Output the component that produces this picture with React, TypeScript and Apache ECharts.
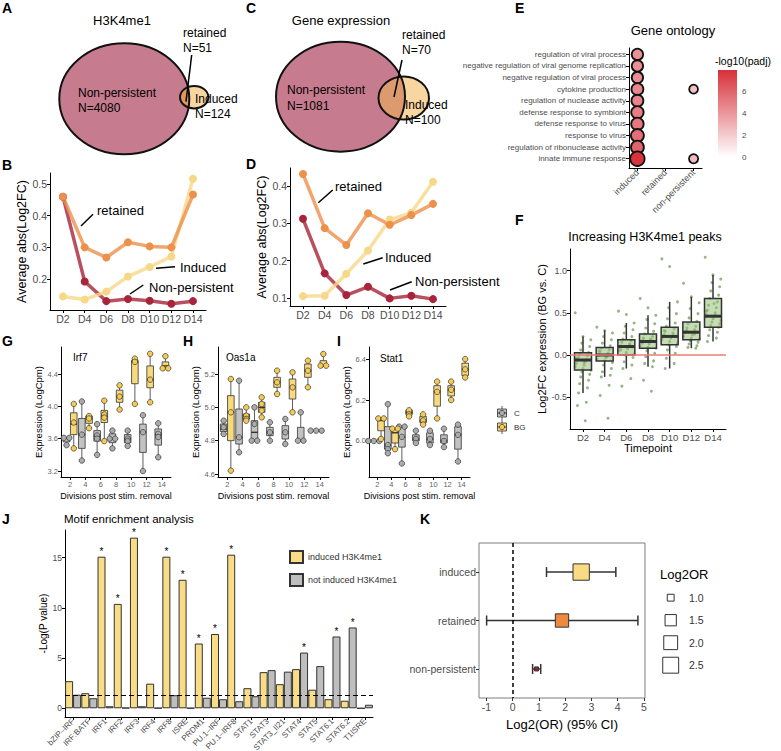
import React, { useEffect, useRef } from "react";
import * as echarts from "echarts";

const FONT = "'Liberation Sans', Arial, Helvetica, sans-serif";

/* ---------- A & C : Venn counts ---------- */
const vennGroups = ["Non-persistent", "retained", "Induced"];
const vennH3K4me1Counts = [4080, 51, 124];
const vennExprCounts = [1081, 70, 100];

/* ---------- B & D : average abs(log2FC) ---------- */
const timepoints = ["D2", "D4", "D6", "D8", "D10", "D12", "D14"];
const h3NonPersistent = [0.46, 0.192, 0.13, 0.137, 0.131, 0.122, 0.13];
const h3Retained = [0.46, 0.3, 0.268, 0.316, 0.303, 0.3, 0.467];
const h3Induced = [0.145, 0.135, 0.16, 0.208, 0.238, 0.271, 0.517];
const exNonPersistent = [0.312, 0.166, 0.108, 0.13, 0.099, 0.106, 0.097];
const exRetained = [0.432, 0.287, 0.242, 0.327, 0.296, 0.322, 0.352];
const exInduced = [0.105, 0.106, 0.165, 0.227, 0.31, 0.328, 0.411];
const bTicks = [0.2, 0.3, 0.4, 0.5];
const dTicks = [0.1, 0.2, 0.3, 0.4];

/* ---------- E : gene ontology ---------- */
const goTerms = [
  "regulation of viral process",
  "negative regulation of viral genome replication",
  "negative regulation of viral process",
  "cytokine production",
  "regulation of nuclease activity",
  "defense response to symbiont",
  "defense response to virus",
  "response to virus",
  "regulation of ribonuclease activity",
  "innate immune response",
];
const goGroups = ["induced", "retained", "non-persistent"];
const goInducedPadj = [4.2, 4.3, 4.4, 4.6, 4.8, 5.0, 5.2, 5.6, 6.0, 7.9];
const goInducedCount = [10, 10, 10, 11, 11, 12, 12, 13, 13, 16];
const goNonPersistentPadj: (number | null)[] = [null, null, null, 2.4, null, null, null, null, null, 2.6];
const goNonPersistentCount: (number | null)[] = [null, null, null, 6, null, null, null, null, null, 6.5];
const colorbarTicks = [0, 2, 4, 6];

/* ---------- F : increasing H3K4me1 peaks ---------- */
const fBoxStats = [
  [-0.45, -0.178, -0.06, 0.027, 0.22],
  [-0.26, -0.07, 0.0, 0.09, 0.29],
  [-0.16, 0.0, 0.1, 0.18, 0.38],
  [-0.14, 0.08, 0.16, 0.25, 0.47],
  [-0.16, 0.12, 0.22, 0.33, 0.63],
  [0.08, 0.18, 0.27, 0.39, 0.69],
  [0.16, 0.33, 0.46, 0.67, 0.95],
];
const fPoints = [
  [0.5, 0.22, 0.18, 0.14, 0.1, 0.06, 0.03, 0.01, -0.01, -0.03, -0.05, -0.06, -0.08, -0.1, -0.12, -0.14, -0.16, -0.18, -0.2, -0.23, -0.26, -0.3, -0.34, -0.39, -0.45, -0.56, -0.6, -0.78, -0.04, -0.09],
  [0.33, 0.29, 0.26, 0.22, 0.18, 0.14, 0.11, 0.08, 0.06, 0.04, 0.02, 0.01, 0.0, -0.01, -0.03, -0.05, -0.07, -0.09, -0.12, -0.16, -0.2, -0.24, -0.26, -0.36, -0.48, -0.75, 0.05, -0.02],
  [0.52, 0.48, 0.38, 0.34, 0.3, 0.26, 0.22, 0.19, 0.17, 0.15, 0.13, 0.11, 0.1, 0.09, 0.07, 0.05, 0.03, 0.01, 0.0, -0.03, -0.08, -0.12, -0.16, -0.28, -0.37, 0.12, 0.06],
  [0.67, 0.56, 0.47, 0.42, 0.37, 0.32, 0.28, 0.25, 0.22, 0.2, 0.18, 0.17, 0.16, 0.15, 0.13, 0.11, 0.09, 0.08, 0.05, 0.02, -0.02, -0.07, -0.1, -0.14, -0.3, -0.43, 0.14, 0.19],
  [1.14, 1.05, 0.63, 0.56, 0.49, 0.43, 0.38, 0.34, 0.31, 0.28, 0.26, 0.24, 0.22, 0.21, 0.2, 0.18, 0.16, 0.14, 0.12, 0.1, 0.06, 0.02, -0.04, -0.1, -0.16, 0.23, 0.29],
  [0.85, 0.69, 0.62, 0.55, 0.49, 0.44, 0.4, 0.37, 0.34, 0.32, 0.3, 0.28, 0.27, 0.26, 0.24, 0.22, 0.2, 0.19, 0.17, 0.15, 0.13, 0.11, 0.09, 0.08, 0.29, 0.25],
  [1.16, 0.95, 0.9, 0.86, 0.81, 0.76, 0.71, 0.67, 0.63, 0.59, 0.56, 0.53, 0.5, 0.48, 0.46, 0.45, 0.43, 0.41, 0.39, 0.37, 0.35, 0.33, 0.3, 0.27, 0.23, 0.2, 0.16, 0.47, 0.52, 0.61],
];
const fTicks = [-0.5, 0, 0.5, 1.0];

/* ---------- G / H / I : gene expression ---------- */
const divisions = ["2", "4", "6", "8", "10", "12", "14"];
const irf7CBox = [[3.52, 3.56, 3.61, 3.61, 3.61], [3.33, 3.48, 3.65, 3.85, 4.06], [3.4, 3.57, 3.63, 3.7, 3.78], [3.48, 3.55, 3.6, 3.66, 3.7], [3.51, 3.55, 3.6, 3.65, 3.7], [3.2, 3.43, 3.68, 3.78, 3.89], [3.37, 3.52, 3.65, 3.72, 3.79]];
const irf7CPts = [[3.61, 3.61, 3.52], [4.06, 3.65, 3.33], [3.78, 3.64, 3.6, 3.4], [3.7, 3.6, 3.6, 3.48], [3.7, 3.6, 3.57, 3.51], [3.89, 3.68, 3.2], [3.79, 3.66, 3.62, 3.37]];
const irf7BGBox = [[3.48, 3.65, 3.78, 3.92, 4.03], [3.73, 3.79, 3.85, 3.88, 3.88], [3.57, 3.8, 3.88, 3.95, 4.07], [3.96, 4.05, 4.12, 4.2, 4.26], [4.03, 4.28, 4.55, 4.57, 4.59], [4.05, 4.23, 4.33, 4.5, 4.65], [4.47, 4.48, 4.5, 4.55, 4.62]];
const irf7BGPts = [[4.03, 3.8, 3.48], [3.88, 3.85, 3.73], [4.07, 3.9, 3.86, 3.57], [4.26, 4.12, 3.96], [4.59, 4.55, 4.03], [4.65, 4.33, 4.05], [4.62, 4.47, 4.47]];
const oas1aCBox = [[4.84, 4.855, 4.87, 4.9, 4.92], [4.73, 4.78, 4.82, 4.99, 5.16], [4.8, 4.8, 4.85, 4.92, 5.0], [4.8, 4.83, 4.85, 4.88, 4.91], [4.78, 4.81, 4.85, 4.89, 4.93], [4.8, 4.8, 4.8, 4.88, 4.97], [4.86, 4.86, 4.86, 4.86, 4.86]];
const oas1aCPts = [[4.92, 4.88, 4.84], [5.16, 4.82, 4.73], [5.0, 4.9, 4.8, 4.8], [4.91, 4.85, 4.8], [4.93, 4.85, 4.78], [4.97, 4.8, 4.8], [4.86, 4.86, 4.86]];
const oas1aBGBox = [[4.62, 4.8, 4.97, 5.07, 5.17], [4.92, 4.93, 4.95, 4.96, 5.0], [4.94, 4.97, 5.0, 5.03, 5.06], [5.08, 5.12, 5.15, 5.18, 5.22], [4.97, 5.05, 5.12, 5.17, 5.21], [5.12, 5.18, 5.22, 5.26, 5.28], [5.25, 5.25, 5.25, 5.28, 5.32]];
const oas1aBGPts = [[5.17, 4.97, 4.62], [5.0, 4.95, 4.93, 4.92], [5.06, 5.02, 4.98, 4.94], [5.22, 5.15, 5.08], [5.21, 5.12, 4.97], [5.28, 5.22, 5.12], [5.32, 5.25, 5.25]];
const stat1CBox = [[6.0, 6.0, 6.0, 6.0, 6.0], [5.94, 5.96, 5.98, 6.07, 6.18], [5.89, 5.97, 6.02, 6.07, 6.07], [5.99, 6.0, 6.01, 6.03, 6.05], [5.98, 5.99, 6.01, 6.04, 6.05], [5.97, 5.99, 6.0, 6.03, 6.06], [5.9, 5.96, 6.03, 6.07, 6.08]];
const stat1CPts = [[6.0, 6.0, 6.0], [6.18, 5.98, 5.96, 5.94], [6.07, 6.07, 6.02, 5.89], [6.05, 6.01, 5.99], [6.05, 6.01, 5.98], [6.06, 6.0, 5.97], [6.08, 6.03, 5.9]];
const stat1BGBox = [[6.01, 6.05, 6.1, 6.11, 6.11], [5.96, 5.99, 6.04, 6.06, 6.06], [6.12, 6.13, 6.14, 6.15, 6.15], [6.08, 6.09, 6.1, 6.12, 6.13], [6.11, 6.17, 6.24, 6.27, 6.29], [6.2, 6.22, 6.25, 6.27, 6.29], [6.31, 6.32, 6.35, 6.38, 6.4]];
const stat1BGPts = [[6.11, 6.11, 6.01], [6.06, 6.06, 5.96], [6.15, 6.13, 6.12], [6.13, 6.1, 6.08], [6.29, 6.24, 6.11], [6.29, 6.25, 6.2], [6.4, 6.35, 6.31]];
const irf7Ticks = [3.2, 3.6, 4.0, 4.4];
const oas1aTicks = [4.6, 4.8, 5.0, 5.2];
const stat1Ticks = [6.0, 6.2, 6.4];

/* ---------- J : motif enrichment ---------- */
const motifs = ["bZIP–IRF", "IRF:BATF", "IRF1", "IRF2", "IRF3", "IRF4", "IRF8", "ISRE", "PRDM1", "PU.1–IRF", "PU.1–IRF8", "STAT1", "STAT3", "STAT3_Il21", "STAT4", "STAT5", "STAT6.1", "STAT6.2", "T1ISRE"];
const motifInduced = [2.7, 1.5, 15.1, 10.4, 17.0, 2.45, 15.1, 12.8, 6.45, 7.4, 15.3, 2.0, 3.6, 2.4, 3.9, 1.85, 0.9, 0.75, 0.0];
const motifNotInduced = [1.35, 1.0, 0.2, 0.05, 0.2, 0.03, 1.3, 0.02, 1.05, 0.9, 0.7, 1.2, 3.8, 3.65, 5.55, 4.2, 7.15, 8.05, 0.35];
const motifSigInduced = [false, false, true, true, true, false, true, true, true, true, true, false, false, false, false, false, false, false, false];
const motifSigNotInduced = [false, false, false, false, false, false, false, false, false, false, false, false, false, false, true, false, true, true, false];
const jTicks = [0, 5, 10, 15];
const pThreshold = 1.3;

/* ---------- K : odds ratios ---------- */
const kGroups = ["induced", "retained", "non-persistent"];
const kLog2OR = [2.61, 1.88, 0.91];
const kLo = [1.29, -0.99, 0.76];
const kHi = [3.93, 4.77, 1.07];
const kTicks = [-1, 0, 1, 2, 3, 4, 5];
const kLegendValues = [1.0, 1.5, 2.0, 2.5];

/* ---------- styles ---------- */
const C_NP = "#A8243A";
const C_RET = "#EC904A";
const C_IND = "#F7D888";
const LABEL = "#4D4D4D";
const kColors = ["#F9DB86", "#EE8A3F", "#A51C30"];

const sqSize = (v: number) => 4 + 12.3 * Math.sqrt(Math.max(0, v - 0.91) / 1.69);
const goSize = (n: number) => 3.6 * Math.sqrt(n);

function rayEllipse(px: number, py: number, dx: number, dy: number, e: any) {
  const ox = (px - e.cx) / e.rx, oy = (py - e.cy) / e.ry, ux = dx / e.rx, uy = dy / e.ry;
  const a = ux * ux + uy * uy, b = 2 * (ox * ux + oy * uy), c = ox * ox + oy * oy - 1;
  return (-b + Math.sqrt(b * b - 4 * a * c)) / (2 * a);
}
function overlap(e1: any, e2: any) {
  const px = (e2.cx - e2.rx + e1.cx + e1.rx) / 2, py = e2.cy;
  const pts: number[][] = [];
  for (let k = 0; k < 120; k++) {
    const a = (2 * Math.PI * k) / 120, dx = Math.cos(a), dy = Math.sin(a);
    const t = Math.min(rayEllipse(px, py, dx, dy, e1), rayEllipse(px, py, dx, dy, e2));
    pts.push([px + dx * t, py + dy * t]);
  }
  return pts;
}

const txt = (x: number, y: number, text: string, o: any = {}) => ({
  type: "text", x, y, silent: true,
  style: {
    text, fill: o.fill || "#000",
    font: `${o.bold ? "bold " : ""}${o.size || 12}px ${FONT}`,
    align: o.align || "left", verticalAlign: o.va || "middle",
  },
});
const seg = (x1: number, y1: number, x2: number, y2: number, w = 1.5, color = "#000") => ({
  type: "line", silent: true, shape: { x1, y1, x2, y2 }, style: { stroke: color, lineWidth: w },
});

function venn(e1: any, e2: any, ovColor: string) {
  return [
    { type: "ellipse", silent: true, shape: e1, style: { fill: "#C67C8E" } },
    { type: "ellipse", silent: true, shape: e2, style: { fill: "#F8D6A1" } },
    { type: "polygon", silent: true, shape: { points: overlap(e1, e2) }, style: { fill: ovColor } },
    { type: "ellipse", silent: true, shape: e1, style: { fill: "none", stroke: "#111", lineWidth: 2 } },
    { type: "ellipse", silent: true, shape: e2, style: { fill: "none", stroke: "#111", lineWidth: 2 } },
  ];
}

function axisBase(gridIndex: number, fontSize: number, color: string) {
  return {
    gridIndex,
    axisLine: { show: true, onZero: false, lineStyle: { color: "#000", width: 1 } },
    axisTick: { show: true, length: 3, lineStyle: { color: "#000", width: 1 } },
    axisLabel: { fontSize, color, margin: 3, fontFamily: FONT },
    splitLine: { show: false },
  };
}
function vAxis(gridIndex: number, min: number, max: number, ticks: number[], fmt: any, fontSize: number, color: string, lab: any = {}, extra: any = {}) {
  const b: any = axisBase(gridIndex, fontSize, color);
  return {
    ...b, type: "value", min, max,
    axisTick: { ...b.axisTick, customValues: ticks },
    axisLabel: { ...b.axisLabel, customValues: ticks, formatter: fmt, ...lab },
    ...extra,
  };
}
const nameY = (name: string, gap: number, size: number) => ({
  name, nameLocation: "middle", nameGap: gap, nameRotate: 90,
  nameTextStyle: { fontSize: size, color: "#000", fontFamily: FONT },
});
const nameX = (name: string, gap: number, size: number) => ({
  name, nameLocation: "middle", nameGap: gap,
  nameTextStyle: { fontSize: size, color: "#000", fontFamily: FONT },
});

function boxRenderer(off: number, halfW: number, fill: string, lw: number, medLw: number) {
  return (_p: any, api: any) => {
    const x = api.value(0);
    const pMin = api.coord([x, api.value(1)]);
    const pQ1 = api.coord([x, api.value(2)]);
    const pMed = api.coord([x, api.value(3)]);
    const pQ3 = api.coord([x, api.value(4)]);
    const pMax = api.coord([x, api.value(5)]);
    const cx = pMin[0] + off;
    const st = { stroke: "#333", lineWidth: lw };
    return {
      type: "group",
      children: [
        { type: "line", shape: { x1: cx, y1: pMin[1], x2: cx, y2: pQ1[1] }, style: st },
        { type: "line", shape: { x1: cx, y1: pQ3[1], x2: cx, y2: pMax[1] }, style: st },
        { type: "rect", shape: { x: cx - halfW, y: pQ3[1], width: 2 * halfW, height: Math.max(pQ1[1] - pQ3[1], 0.5) }, style: { fill, stroke: "#333", lineWidth: lw } },
        { type: "line", shape: { x1: cx - halfW, y1: pMed[1], x2: cx + halfW, y2: pMed[1] }, style: { stroke: "#333", lineWidth: medLw } },
      ],
    };
  };
}
const boxSeries = (ai: number, stats: number[][], off: number, halfW: number, fill: string, lw: number, medLw: number, z = 3) => ({
  type: "custom", xAxisIndex: ai, yAxisIndex: ai, silent: true, z,
  renderItem: boxRenderer(off, halfW, fill, lw, medLw),
  encode: { x: 0, y: [1, 2, 3, 4, 5] },
  data: stats.map((s, i) => [i, ...s]),
});
function dotData(pts: number[][], off: number) {
  const out: any[] = [];
  pts.forEach((arr, i) => {
    arr.forEach((v, j) => {
      const same = arr.filter((u) => u === v).length;
      const k = arr.slice(0, j).filter((u) => u === v).length;
      out.push({ value: [i, v], symbolOffset: [off + (k - (same - 1) / 2) * 5.5, 0] });
    });
  });
  return out;
}
const dotSeries = (ai: number, pts: number[][], off: number, fill: string) => ({
  type: "scatter", xAxisIndex: ai, yAxisIndex: ai, silent: true, z: 4,
  symbolSize: 5.5, data: dotData(pts, off),
  itemStyle: { color: fill, borderColor: "#333", borderWidth: 0.7, opacity: 1 },
});

function buildOption() {
  const grids = [
    { left: 50, top: 173, width: 156, height: 137 },
    { left: 290, top: 168, width: 156, height: 138 },
    { left: 629, top: 48, width: 73, height: 120 },
    { left: 570, top: 249, width: 156, height: 180 },
    { left: 61, top: 347, width: 110, height: 130 },
    { left: 218, top: 347, width: 111, height: 130 },
    { left: 369, top: 347, width: 101, height: 130 },
    { left: 65, top: 530, width: 308, height: 187 },
    { left: 479, top: 543, width: 166, height: 155, show: true, borderColor: "#7f7f7f", borderWidth: 1 },
  ].map((g) => ({ ...g, outerBoundsMode: "none", containLabel: false }));

  const idx7 = [0, 1, 2, 3, 4, 5, 6];
  const tpFmt = (v: number) => timepoints[Math.round(v)] ?? "";
  const divFmt = (v: number) => divisions[Math.round(v)] ?? "";
  const f1 = (v: number) => v.toFixed(1);

  const xAxis: any[] = [
    vAxis(0, -0.6, 6.6, idx7, tpFmt, 10.5, LABEL),
    vAxis(1, -0.6, 6.6, idx7, tpFmt, 10.5, LABEL),
    vAxis(2, -0.3, 2.3, [0, 1, 2], (v: number) => goGroups[Math.round(v)] ?? "", 9, LABEL, { rotate: 45 }),
    vAxis(3, -0.6, 6.6, idx7, tpFmt, 9.5, LABEL, {}, nameX("Timepoint", 13, 11)),
    vAxis(4, -0.6, 6.6, idx7, divFmt, 7.5, "#666", {}, nameX("Divisions post stim. removal", 14, 9)),
    vAxis(5, -0.6, 6.6, idx7, divFmt, 7.5, "#666", {}, nameX("Divisions post stim. removal", 14, 9)),
    vAxis(6, -0.6, 6.6, idx7, divFmt, 7.5, "#666", {}, nameX("Divisions post stim. removal", 14, 9)),
    {
      ...axisBase(7, 8, LABEL), type: "category", data: motifs, boundaryGap: true,
      axisTick: { show: true, length: 3, alignWithLabel: true, lineStyle: { color: "#000" } },
      axisLabel: { fontSize: 8, color: LABEL, margin: 3, rotate: 45, interval: 0, fontFamily: FONT },
    },
    {
      ...vAxis(8, -1.28, 5.04, kTicks, (v: number) => String(v), 10.5, LABEL, {}, nameX("Log2(OR) (95% CI)", 20, 13)),
      axisLine: { show: false, onZero: false },
      axisTick: { show: true, length: 3, customValues: kTicks, lineStyle: { color: "#333" } },
    },
  ];
  const yAxis: any[] = [
    vAxis(0, 0.102, 0.535, bTicks, f1, 10.5, LABEL, {}, nameY("Average abs(Log2FC)", 22, 12.5)),
    vAxis(1, 0.0786, 0.448, dTicks, f1, 10.5, LABEL, {}, nameY("Average abs(Log2FC)", 22, 12.5)),
    vAxis(2, -0.55, 9.8, [0, 1, 2, 3, 4, 5, 6, 7, 8, 9], (v: number) => goTerms[Math.round(v)] ?? "", 8, LABEL, {}, { inverse: true }),
    vAxis(3, -0.878, 1.257, fTicks, f1, 9, LABEL, {}, nameY("Log2FC expression (BG vs. C)", 21, 11)),
    vAxis(4, 3.126, 4.734, irf7Ticks, f1, 7.5, "#666", {}, nameY("Expression (LogCpm)", 17, 9.5)),
    vAxis(5, 4.582, 5.362, oas1aTicks, f1, 7.5, "#666", {}, nameY("Expression (LogCpm)", 18, 9.5)),
    vAxis(6, 5.824, 6.459, stat1Ticks, f1, 7.5, "#666", {}, nameY("Expression (LogCpm)", 16, 9.5)),
    vAxis(7, -0.87, 17.76, jTicks, (v: number) => String(v), 8.5, LABEL, {}, nameY("-Log(P value)", 14, 10)),
    {
      ...vAxis(8, -0.6, 2.6, [0, 1, 2], (v: number) => kGroups[Math.round(v)] ?? "", 10.5, LABEL, {}, { inverse: true }),
      axisLine: { show: false, onZero: false },
      axisTick: { show: true, length: 3, customValues: [0, 1, 2], lineStyle: { color: "#333" } },
    },
  ];

  const series: any[] = [];
  const addLines = (ai: number, np: number[], ind: number[], ret: number[]) => {
    const sets: [number[], string][] = [[np, C_NP], [ind, C_IND], [ret, C_RET]];
    sets.forEach(([d, c]) =>
      series.push({
        type: "line", xAxisIndex: ai, yAxisIndex: ai, silent: true, z: 2, symbol: "none", showSymbol: false,
        data: d.map((v, i) => [i, v]), lineStyle: { color: c, width: 3.5, opacity: 0.8 }, itemStyle: { color: c },
      })
    );
    sets.forEach(([d, c]) =>
      series.push({
        type: "scatter", xAxisIndex: ai, yAxisIndex: ai, silent: true, z: 3, symbolSize: 8,
        data: d.map((v, i) => [i, v]), itemStyle: { color: c, opacity: 1 },
      })
    );
  };
  addLines(0, h3NonPersistent, h3Induced, h3Retained);
  addLines(1, exNonPersistent, exInduced, exRetained);

  // E
  const eData: any[] = [];
  goInducedPadj.forEach((v, i) => eData.push([0, i, v, goInducedCount[i]]));
  goNonPersistentPadj.forEach((v, i) => {
    if (v !== null) eData.push([2, i, v, goNonPersistentCount[i]]);
  });
  const eIndex = series.length;
  series.push({
    type: "scatter", xAxisIndex: 2, yAxisIndex: 2, silent: true, z: 3,
    data: eData, symbolSize: (d: number[]) => goSize(d[3]),
    itemStyle: { borderColor: "#111", borderWidth: 1.8, opacity: 1 },
  });

  // F
  series.push({
    type: "scatter", xAxisIndex: 3, yAxisIndex: 3, silent: true, z: 2, symbolSize: 3,
    data: fPoints.flatMap((arr, i) => arr.map((v, j) => [i + (((j * 7) % 15) - 7) / 7 * 0.36, v])),
    itemStyle: { color: "#6B9650", opacity: 0.7 },
    markLine: {
      silent: true, symbol: ["none", "none"], label: { show: false },
      lineStyle: { color: "#F07A72", width: 1.5, type: "solid" }, data: [{ yAxis: 0 }],
    },
  });
  series.push(boxSeries(3, fBoxStats, 0, 8.5, "rgba(150,192,118,0.55)", 1.5, 3, 3));

  // G, H, I
  const ghi: [number, number[][], number[][], number[][], number[][]][] = [
    [4, irf7CBox, irf7CPts, irf7BGBox, irf7BGPts],
    [5, oas1aCBox, oas1aCPts, oas1aBGBox, oas1aBGPts],
    [6, stat1CBox, stat1CPts, stat1BGBox, stat1BGPts],
  ];
  ghi.forEach(([ai, cb, cp, bb, bp]) => {
    series.push(boxSeries(ai, cb, -3.6, 3.3, "#C2C2C2", 0.8, 1.4));
    series.push(boxSeries(ai, bb, 3.6, 3.3, "#F8D97C", 0.8, 1.4));
    series.push(dotSeries(ai, cp, -3.6, "#ABABAB"));
    series.push(dotSeries(ai, bp, 3.6, "#F5CB55"));
  });

  // J
  const starLabel = { show: true, position: "top", formatter: "*", fontSize: 10, color: "#000", distance: 0, fontFamily: FONT };
  const hidden = { show: false };
  series.push({
    type: "bar", name: "induced H3K4me1", xAxisIndex: 7, yAxisIndex: 7, silent: true,
    barWidth: 8, barGap: "0%",
    data: motifInduced.map((v, i) => ({ value: v, label: motifSigInduced[i] ? starLabel : hidden })),
    itemStyle: { color: "#FADB86", borderColor: "#333", borderWidth: 1 }, label: hidden,
    markLine: {
      silent: true, symbol: ["none", "none"], label: { show: false },
      lineStyle: { color: "#000", width: 1, type: [5, 3] }, data: [{ yAxis: pThreshold }],
    },
  });
  series.push({
    type: "bar", name: "not induced H3K4me1", xAxisIndex: 7, yAxisIndex: 7, silent: true,
    barWidth: 8, barGap: "0%",
    data: motifNotInduced.map((v, i) => ({ value: v, label: motifSigNotInduced[i] ? starLabel : hidden })),
    itemStyle: { color: "#BEBEBE", borderColor: "#333", borderWidth: 1 }, label: hidden,
  });

  // K
  series.push({
    type: "custom", xAxisIndex: 8, yAxisIndex: 8, silent: true, z: 3,
    encode: { x: [0, 1], y: 2 },
    data: kLo.map((lo, i) => [lo, kHi[i], i]),
    renderItem: (_p: any, api: any) => {
      const a = api.coord([api.value(0), api.value(2)]);
      const b = api.coord([api.value(1), api.value(2)]);
      const st = { stroke: "#333", lineWidth: 1.5 };
      return {
        type: "group",
        children: [
          { type: "line", shape: { x1: a[0], y1: a[1], x2: b[0], y2: b[1] }, style: st },
          { type: "line", shape: { x1: a[0], y1: a[1] - 5, x2: a[0], y2: a[1] + 5 }, style: st },
          { type: "line", shape: { x1: b[0], y1: b[1] - 5, x2: b[0], y2: b[1] + 5 }, style: st },
        ],
      };
    },
  });
  series.push({
    type: "scatter", xAxisIndex: 8, yAxisIndex: 8, silent: true, z: 4, symbol: "rect",
    data: kLog2OR.map((v, i) => ({ value: [v, i], symbolSize: sqSize(v), itemStyle: { color: kColors[i] } })),
    itemStyle: { borderColor: "#333", borderWidth: 1, opacity: 1 },
    markLine: {
      silent: true, symbol: ["none", "none"], label: { show: false },
      lineStyle: { color: "#000", width: 1.5, type: [4, 3] }, data: [{ xAxis: 0 }],
    },
  });

  // graphics
  const eA1 = { cx: 124.3, cy: 98.8, rx: 65, ry: 55.5 };
  const eA2 = { cx: 194.2, cy: 97.2, rx: 14.2, ry: 11.2 };
  const eC1 = { cx: 340.5, cy: 96.7, rx: 64.5, ry: 55 };
  const eC2 = { cx: 403.75, cy: 98, rx: 25.25, ry: 21.5 };
  const g: any[] = [];
  g.push(...venn(eA1, eA2, "#E3955F"));
  g.push(...venn(eC1, eC2, "#DE9A6F"));
  const L = (x: number, y: number, s: string) => txt(x, y, s, { bold: true, size: 14 });
  g.push(L(2, 8, "A"), L(2, 165, "B"), L(246, 8, "C"), L(246, 164, "D"), L(515, 8, "E"), L(515, 220, "F"),
    L(2, 341, "G"), L(183, 341, "H"), L(337, 341, "I"), L(2, 519, "J"), L(420, 519, "K"));
  g.push(txt(122, 20, "H3K4me1", { size: 13, align: "center" }));
  g.push(txt(78, 92.5, vennGroups[0]), txt(78, 108, "N=" + vennH3K4me1Counts[0]));
  g.push(txt(183, 33, vennGroups[1]), txt(183, 47.5, "N=" + vennH3K4me1Counts[1]), seg(191.7, 55, 186, 101.7));
  g.push(txt(195, 99, vennGroups[2]), txt(195, 114, "N=" + vennH3K4me1Counts[2]));
  g.push(txt(341, 20, "Gene expression", { size: 13, align: "center" }));
  g.push(txt(287, 90, vennGroups[0]), txt(287, 106, "N=" + vennExprCounts[0]));
  g.push(txt(402, 35, vennGroups[1]), txt(402, 50, "N=" + vennExprCounts[1]), seg(402, 60, 394, 97));
  g.push(txt(405, 105, vennGroups[2]), txt(405, 119.5, "N=" + vennExprCounts[2]));
  // B, D annotations
  g.push(txt(97, 210.5, "retained", { size: 13 }), seg(81, 226, 93, 214.3));
  g.push(txt(180, 267.3, "Induced", { size: 13 }), seg(156, 268.3, 175, 266.7));
  g.push(txt(149, 287.7, "Non-persistent", { size: 13 }), seg(130, 294, 143.3, 285));
  g.push(txt(335, 186, "retained", { size: 13 }), seg(318.3, 202.7, 332.7, 190));
  g.push(txt(385, 257.3, "Induced", { size: 13 }), seg(363.3, 264, 382.7, 257.7));
  g.push(txt(415, 281.7, "Non-persistent", { size: 13 }), seg(390, 290, 411.7, 281.7));
  // E title + colorbar
  g.push(txt(673, 30, "Gene ontology", { size: 13, align: "center" }));
  g.push(txt(715, 61, "-log10(padj)", { size: 10.5 }));
  const cbTop = 70, cbH = 87, cbMax = 8;
  g.push({
    type: "rect", silent: true, shape: { x: 718, y: cbTop, width: 19, height: cbH },
    style: { fill: new echarts.graphic.LinearGradient(0, 0, 0, 1, [{ offset: 0, color: "#D7303A" }, { offset: 1, color: "#FFFFFF" }]) },
  });
  colorbarTicks.forEach((t) => g.push(txt(742, cbTop + cbH - (t / cbMax) * cbH, String(t), { size: 8, fill: LABEL })));
  // F title
  g.push(txt(645, 237, "Increasing H3K4me1 peaks", { size: 12.5, align: "center" }));
  // G H I gene labels + legend
  g.push(txt(73, 357, "Irf7", { size: 10 }), txt(226, 357, "Oas1a", { size: 10 }), txt(380, 358, "Stat1", { size: 10 }));
  const legKey = (cy: number, fill: string, dot: string, label: string) => [
    seg(502, cy - 7, 502, cy + 7, 0.8, "#333"),
    { type: "rect", silent: true, shape: { x: 497.5, y: cy - 4, width: 9, height: 8 }, style: { fill, stroke: "#333", lineWidth: 0.8 } },
    seg(497.5, cy, 506.5, cy, 1, "#333"),
    { type: "circle", silent: true, shape: { cx: 502, cy, r: 2.6 }, style: { fill: dot, stroke: "#333", lineWidth: 0.7 } },
    txt(514, cy, label, { size: 8, fill: "#333" }),
  ];
  g.push(...legKey(413, "#C2C2C2", "#ABABAB", "C"), ...legKey(427, "#F8D97C", "#F5CB55", "BG"));
  // J title
  g.push(txt(64, 519, "Motif enrichment analysis", { size: 11.5 }));
  // K legend
  g.push(txt(660, 574, "Log2OR", { size: 13 }));
  kLegendValues.forEach((v, i) => {
    const cy = 597.7 + i * 22.5, s = sqSize(v);
    g.push({ type: "rect", silent: true, shape: { x: 670.7 - s / 2, y: cy - s / 2, width: s, height: s }, style: { fill: "#fff", stroke: "#333", lineWidth: 1 } });
    g.push(txt(689, cy, v.toFixed(1), { size: 10.5, fill: "#333" }));
  });

  return {
    animation: false,
    backgroundColor: "#fff",
    textStyle: { fontFamily: FONT },
    grid: grids,
    xAxis,
    yAxis,
    series,
    visualMap: [{
      type: "continuous", show: false, seriesIndex: eIndex, dimension: 2, min: 0, max: cbMax,
      inRange: { color: ["#FFFFFF", "#D7303A"] },
    }],
    legend: [{
      data: ["induced H3K4me1", "not induced H3K4me1"], left: 284, top: 545, orient: "vertical",
      itemWidth: 13, itemHeight: 12, itemGap: 9, icon: "rect", selectedMode: false,
      textStyle: { fontSize: 9, color: "#333", fontFamily: FONT },
    }],
    graphic: g,
  };
}

export default function App() {
  const ref = useRef<HTMLDivElement>(null);
  useEffect(() => {
    if (!ref.current) return;
    const chart = echarts.init(ref.current, null, { renderer: "svg" });
    chart.setOption(buildOption() as any);
    return () => chart.dispose();
  }, []);
  return <div ref={ref} style={{ position: "absolute", left: 0, top: 0, width: 781, height: 751, background: "#fff" }} />;
}
